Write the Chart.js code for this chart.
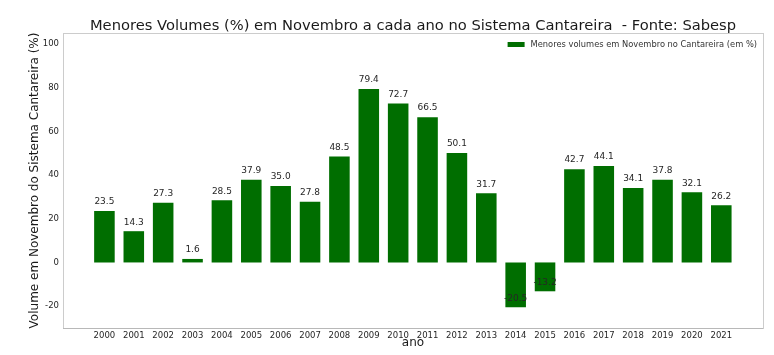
<!DOCTYPE html>
<html><head><meta charset="utf-8">
<script src="https://cdn.jsdelivr.net/npm/chart.js@4.4.0/dist/chart.umd.min.js"></script>
<style>html,body{margin:0;padding:0;background:#fff}#wrap{width:774px;height:355px;position:relative}</style>
</head><body><div id="wrap"><canvas id="c"></canvas></div>
<script>
const years = [2000,2001,2002,2003,2004,2005,2006,2007,2008,2009,2010,2011,2012,2013,2014,2015,2016,2017,2018,2019,2020,2021];
const values = [23.5,14.3,27.3,1.6,28.5,37.9,35.0,27.8,48.5,79.4,72.7,66.5,50.1,31.7,-20.5,-13.2,42.7,44.1,34.1,37.8,32.1,26.2];
const yTicks = [-20,0,20,40,60,80,100];
const seriesLabel = 'Menores volumes em Novembro no Cantareira (em %)';
const titleText = 'Menores Volumes (%) em Novembro a cada ano no Sistema Cantareira  - Fonte: Sabesp';
const yTitle = 'Volume em Novembro do Sistema Cantareira (%)';
const xTitle = 'ano';

const FONT = "'DejaVu Sans', sans-serif";
Chart.defaults.font.family = FONT;
Chart.defaults.color = '#262626';
const BAR_COLOR = '#006e00';

const framePlugin = {
  id: 'frame',
  beforeDatasetsDraw(chart) {
    const {ctx, chartArea: a} = chart;
    ctx.save();
    ctx.strokeStyle = '#cccccc';
    ctx.lineWidth = 1;
    ctx.strokeRect(Math.round(a.left) + 0.5, Math.round(a.top) + 0.5, Math.round(a.right - a.left), Math.round(a.bottom - a.top));
    ctx.strokeStyle = '#b8b8b8';
    ctx.beginPath();
    ctx.moveTo(a.left, Math.round(a.bottom) + 0.5);
    ctx.lineTo(a.right, Math.round(a.bottom) + 0.5);
    ctx.stroke();
    ctx.restore();
  }
};

const titlePlugin = {
  id: 'centerTitle',
  afterDraw(chart) {
    const {ctx, chartArea: a} = chart;
    ctx.save();
    ctx.font = "14.7px " + FONT;
    ctx.fillStyle = '#1a1a1a';
    ctx.textAlign = 'center';
    ctx.textBaseline = 'alphabetic';
    ctx.fillText(titleText, (a.left + a.right) / 2, 30);
    ctx.restore();
  }
};

const legendPlugin = {
  id: 'innerLegend',
  afterDraw(chart) {
    const {ctx, chartArea: a} = chart;
    ctx.save();
    ctx.font = "8.3px " + FONT;
    const w = ctx.measureText(seriesLabel).width;
    const textRight = a.right - 6;
    const textLeft = textRight - w;
    const cy = a.top + 12;
    ctx.fillStyle = BAR_COLOR;
    ctx.fillRect(textLeft - 23, cy - 3, 17, 5);
    ctx.fillStyle = '#333333';
    ctx.textAlign = 'left';
    ctx.textBaseline = 'middle';
    ctx.fillText(seriesLabel, textLeft, cy);
    ctx.restore();
  }
};

const labelPlugin = {
  id: 'barLabels',
  afterDatasetsDraw(chart) {
    const {ctx} = chart;
    const meta = chart.getDatasetMeta(0);
    ctx.save();
    ctx.font = "9px " + FONT;
    ctx.fillStyle = '#262626';
    ctx.textAlign = 'center';
    ctx.textBaseline = 'middle';
    meta.data.forEach((bar, i) => {
      ctx.fillText(values[i].toFixed(1), bar.x, bar.y - 9);
    });
    ctx.restore();
  }
};

new Chart(document.getElementById('c'), {
  type: 'bar',
  data: {
    datasets: [{
      label: seriesLabel,
      data: years.map((y, i) => ({x: y, y: values[i]})),
      backgroundColor: BAR_COLOR,
      borderWidth: 0,
      categoryPercentage: 1.0,
      barPercentage: 0.7
    }]
  },
  options: {
    responsive: true,
    maintainAspectRatio: false,
    animation: false,
    layout: {padding: {left: 0, right: 11, top: 33, bottom: 0}},
    plugins: {
      title: {display: false},
      legend: {display: false},
      tooltip: {enabled: false}
    },
    scales: {
      x: {
        type: 'linear',
        offset: false,
        min: 1998.59,
        max: 2022.42,
        grid: {display: false, drawTicks: false},
        border: {display: false},
        ticks: {font: {size: 8.5}, padding: 3, autoSkip: false, maxRotation: 0, callback: v => String(v)},
        afterBuildTicks: s => { s.ticks = years.map(v => ({value: v})); },
        afterFit: s => { s.height = 27; },
        title: {display: true, text: xTitle, font: {size: 12}, padding: {top: 0, bottom: 5}, color: '#1a1a1a'}
      },
      y: {
        min: -30,
        max: 105,
        grid: {display: false, drawTicks: false},
        border: {display: false},
        ticks: {font: {size: 8.5}, padding: 4},
        afterBuildTicks: s => { s.ticks = yTicks.map(v => ({value: v})); },
        afterFit: s => { s.width = 63; },
        title: {display: true, text: yTitle, font: {size: 12}, padding: {top: 28, bottom: 0}, color: '#1a1a1a'}
      }
    }
  },
  plugins: [framePlugin, labelPlugin, titlePlugin, legendPlugin]
});
</script></body></html>
